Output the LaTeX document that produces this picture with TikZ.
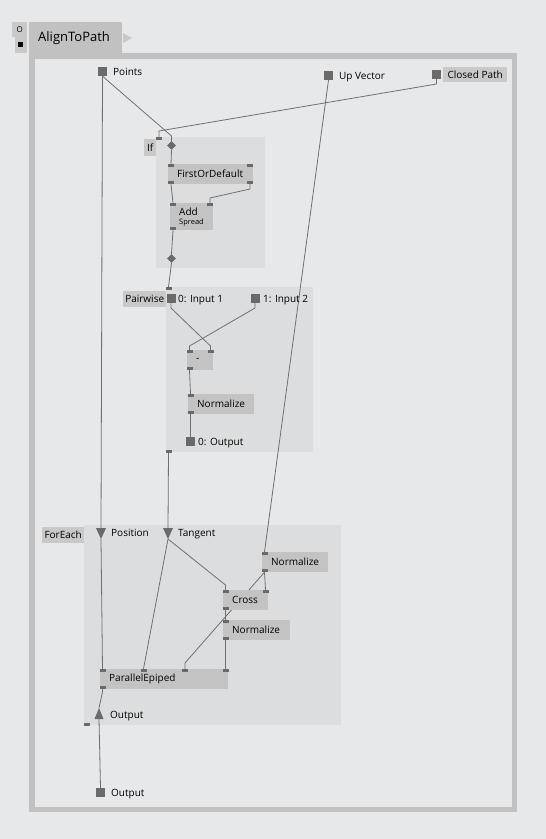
\documentclass[tikz,border=0pt]{standalone}
\usepackage{fontspec}
\setmainfont{Open Sans}
\usetikzlibrary{shapes.geometric}

\definecolor{bg}{RGB}{231,232,233}
\definecolor{region}{RGB}{220,221,222}
\definecolor{boxgray}{RGB}{194,195,194}
\definecolor{lblgray}{RGB}{200,201,200}
\definecolor{framegray}{RGB}{192,193,192}
\definecolor{pingray}{RGB}{106,106,106}
\definecolor{wiregray}{RGB}{112,112,112}

\pgfdeclarelayer{under}
\pgfdeclarelayer{wires}
\pgfsetlayers{under,wires,main}

\begin{document}
\begin{tikzpicture}[x=1pt, y=-1pt,
  vbox/.style={anchor=north west, fill=boxgray, minimum height=20, inner xsep=9, inner ysep=0, align=left, text width=#1},
  lbox/.style={anchor=north west, fill=lblgray, inner sep=0, text height=8, text depth=1},
  iolet/.style={fill=pingray, inner sep=0, minimum width=6, minimum height=3},
  iosq/.style={fill=pingray, inner sep=0, minimum size=9},
  sw/.style={diamond, fill=pingray, inner sep=0, minimum size=9},
  wire/.style={draw=wiregray, line width=0.8},
  tag/.style={anchor=west, inner sep=0, text height=8, text depth=1}]
  \useasboundingbox (0,0) rectangle (546,839);

  % header
  \node[lbox, minimum width=15, minimum height=15, text height=, text depth=, font=\fontsize{8}{8}\selectfont] (run) at (12,22) {O};
  \node[lbox, minimum width=12, minimum height=16] (stop) at (15,37) {};
  \fill (18,42) rectangle (23,47);
  \node[anchor=north west, fill=framegray, minimum width=93, minimum height=31, inner xsep=9, text width=75, align=left, font=\fontsize{13}{15}\selectfont] (title) at (29,22) {AlignToPath};
  \fill[lblgray] (123,33) -- (132,38) -- (123,43) -- cycle;

  % patch inlets
  \node[iosq] (pts) at (102.5,71.5) {};
  \node[tag] (pts-l) at (113,71.5) {Points};
  \node[iosq] (up) at (328.5,75.5) {};
  \node[tag] (up-l) at (339,75.5) {Up Vector};
  \node[iosq] (cp) at (436.5,74.5) {};
  \node[lbox, minimum width=64, minimum height=15] (cp-l) at (443,67) {Closed Path};

  % If
  \node[lbox, minimum width=12, minimum height=17] (if-l) at (144,139) {If};
  \node[iolet] (if-i) at (159,138.5) {};
  \node[sw] (sw1) at (171.5,145.5) {};
  \node[vbox=67] (fod) at (168,164) {FirstOrDefault};
  \node[iolet] (fod-i1) at (171,165.5) {};
  \node[iolet] (fod-i2) at (250,165.5) {};
  \node[iolet] (fod-o1) at (171,182.5) {};
  \node[iolet] (fod-o2) at (250,182.5) {};
  \node[vbox=25, minimum height=27] (add) at (170,203) {Add\\[-3pt]{\fontsize{7.5}{8}\selectfont Spread}};
  \node[iolet] (add-i1) at (173,204.5) {};
  \node[iolet] (add-i2) at (210,204.5) {};
  \node[iolet] (add-o) at (173,228.5) {};
  \node[sw] (sw2) at (171.5,258.5) {};

  % Pairwise
  \node[lbox, minimum width=43, minimum height=16] (pw-l) at (123,291) {Pairwise};
  \node[iolet] (pw-i) at (168.5,288.5) {};
  \node[iosq] (in1) at (171,298.5) {};
  \node[tag] (in1-l) at (178,298.5) {0: Input 1};
  \node[iosq] (in2) at (255,298.5) {};
  \node[tag] (in2-l) at (263,298.5) {1: Input 2};
  \node[vbox=8] (sub) at (187,350) {-};
  \node[iolet] (sub-i1) at (189.5,351.5) {};
  \node[iolet] (sub-i2) at (210.5,351.5) {};
  \node[iolet] (sub-o) at (189.5,368.5) {};
  \node[vbox=48] (nrm1) at (188,394) {Normalize};
  \node[iolet] (nrm1-i) at (190.5,395.5) {};
  \node[iolet] (nrm1-o) at (190.5,412.5) {};
  \node[iosq] (out0) at (190.5,441.5) {};
  \node[tag] (out0-l) at (198,441.5) {0: Output};
  \node[iolet] (pw-o) at (168.5,451.5) {};

  % ForEach
  \node[lbox, minimum width=42, minimum height=16] (fe-l) at (42,527) {ForEach};
  \coordinate (pos) at (101,528);
  \fill[pingray] (pos) ++(-5,0) -- ++(10,0) -- ++(-5,11) -- cycle;
  \coordinate (pos-o) at (101,539);
  \node[tag] (pos-l) at (111,532.5) {Position};
  \coordinate (tan) at (168,528);
  \fill[pingray] (tan) ++(-5,0) -- ++(10,0) -- ++(-5,11) -- cycle;
  \coordinate (tan-o) at (168,539);
  \node[tag] (tan-l) at (178,532.5) {Tangent};
  \node[vbox=48] (nrm2) at (262,552) {Normalize};
  \node[iolet] (nrm2-i) at (264.5,553.5) {};
  \node[iolet] (nrm2-o) at (264.5,570.5) {};
  \node[vbox=27] (cross) at (223,590) {Cross};
  \node[iolet] (cross-i1) at (225.5,591.5) {};
  \node[iolet] (cross-i2) at (265.5,591.5) {};
  \node[iolet] (cross-o) at (225.5,608.5) {};
  \node[vbox=49] (nrm3) at (223,620) {Normalize};
  \node[iolet] (nrm3-i) at (225.5,621.5) {};
  \node[iolet] (nrm3-o) at (225.5,638.5) {};
  \node[vbox=110] (pe) at (100,669) {ParallelEpiped};
  \node[iolet] (pe-i1) at (102.5,670.5) {};
  \node[iolet] (pe-i2) at (143.5,670.5) {};
  \node[iolet] (pe-i3) at (185,670.5) {};
  \node[iolet] (pe-i4) at (225.5,670.5) {};
  \node[iolet] (pe-o) at (102.5,687.5) {};
  \coordinate (fe-out) at (99,708);
  \fill[pingray] (fe-out) -- ++(4.5,11) -- ++(-9,0) -- cycle;
  \coordinate (fe-out-b) at (99,719);
  \node[tag] (fe-out-l) at (110,715) {Output};
  \node[iolet] (fe-o) at (86.5,724) {};

  % patch outlet
  \node[iosq] (out) at (100.5,792.5) {};
  \node[tag] (out-l) at (111,792.5) {Output};

  \begin{pgfonlayer}{under}
    \fill[bg] (0,0) rectangle (546,839);
    \draw[framegray, line width=5.5] (31.75,55.75) rectangle (514.25,809.25);
    \fill[region] (156,137) rectangle (265,268);
    \fill[region] (166,287) rectangle (313,452);
    \fill[region] (84,525) rectangle (341,725);
  \end{pgfonlayer}

  \begin{pgfonlayer}{wires}
    \draw[wire] (pts.south) -- (171.5,136) -- (sw1.north);
    \draw[wire] (cp.south) -- (436.5,84) -- (159,131) -- (if-i.north);
    \draw[wire] (sw1.south) -- (fod-i1.north);
    \draw[wire] (fod-o1.south) -- (add-i1.north);
    \draw[wire] (fod-o2.south) -- (250,189) -- (210,198) -- (add-i2.north);
    \draw[wire] (add-o.south) -- (sw2.north);
    \draw[wire] (sw2.south) -- (pw-i.north);
    \draw[wire] (in1.south) -- (171,308) -- (210.5,346) -- (sub-i2.north);
    \draw[wire] (in2.south) -- (255,308) -- (189.5,346) -- (sub-i1.north);
    \draw[wire] (sub-o.south) -- (nrm1-i.north);
    \draw[wire] (nrm1-o.south) -- (out0.north);
    \draw[wire] (pw-o.south) -- (tan);
    \draw[wire] (pts.south) -- (pos);
    \draw[wire] (up.south) -- (nrm2-i.north);
    \draw[wire] (pos-o) -- (pe-i1.north);
    \draw[wire] (tan-o) -- (pe-i2.north);
    \draw[wire] (tan-o) -- (225.5,585) -- (cross-i1.north);
    \draw[wire] (nrm2-o.south) -- (cross-i2.north);
    \draw[wire] (nrm2-o.south) -- (185,663) -- (pe-i3.north);
    \draw[wire] (cross-o.south) -- (nrm3-i.north);
    \draw[wire] (nrm3-o.south) -- (pe-i4.north);
    \draw[wire] (pe-o.south) -- (102.5,692) -- (fe-out);
    \draw[wire] (fe-out-b) -- (out.north);
  \end{pgfonlayer}
\end{tikzpicture}
\end{document}
